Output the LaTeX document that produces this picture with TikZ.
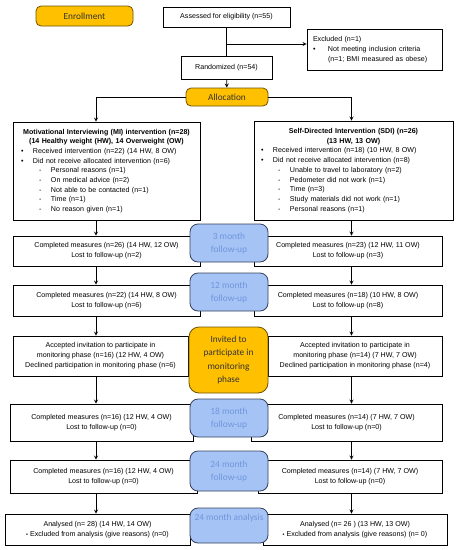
\documentclass[tikz,border=0pt]{standalone}
\usepackage{fontspec}
\setmainfont{Liberation Sans}
\newfontfamily\calib{Carlito}
\definecolor{orfill}{HTML}{FFC000}
\definecolor{ordraw}{HTML}{6E5200}
\definecolor{blfill}{HTML}{A6C3F6}
\definecolor{bldraw}{HTML}{33415C}
\definecolor{bltext}{HTML}{6E96DC}
\tikzset{
  wbox/.style={draw, fill=white, line width=0.8pt, inner sep=0pt, align=center, font=\fontsize{7.1}{10}\selectfont},
  bbox/.style={draw=bldraw, fill=blfill, text=bltext, line width=0.8pt, rounded corners=8pt, inner sep=0pt, align=center, minimum width=78pt, font=\calib\fontsize{9.4}{13}\selectfont},
  obox/.style={draw=ordraw, fill=orfill, text=black!80, line width=0.8pt, rounded corners=5pt, inner sep=0pt, align=center, font=\calib\fontsize{9.3}{13.5}\selectfont},
  arr/.style={->, line width=0.8pt}
}
\newcommand{\bul}[2][8pt]{\hspace*{#1}\makebox[12pt][l]{\textbullet}#2}
\newcommand{\dsh}[2][26pt]{\hspace*{#1}\makebox[12pt][l]{-}#2}
\begin{document}
\begin{tikzpicture}[>=stealth, x=1pt, y=-1pt]
	\useasboundingbox (0,0) rectangle (456,550);
	%Enrollment
	\node[obox, minimum width=97pt, minimum height=20pt] (enroll) at (84.5,16) {Enrollment};
	\node[wbox, minimum width=127pt, minimum height=20pt] (assess) at (226.5,17) {Assessed for eligibility (n=55)};
	\node[wbox, minimum width=135pt, minimum height=41pt, text width=135pt, align=left] (excl) at (374.5,49.5)
		{\hspace*{6pt}Excluded (n=1)\\
		\bul[6pt]{\hspace*{3pt}Not meeting inclusion criteria}\\
		\hspace*{21pt}(n=1; BMI measured as obese)};
	\node[wbox, minimum width=91pt, minimum height=23pt] (rand) at (226.5,67.5) {Randomized (n=54)};
	\coordinate (br) at (227,44);
	\draw[line width=0.8pt] (assess.south) -- (rand.north);
	\draw[arr] (br) -- (br -| excl.west);
	%Allocation
	\node[obox, minimum width=82pt, minimum height=18pt] (alloc) at (227,97) {Allocation};
	\draw[arr] (rand) -- (alloc);
	\coordinate (lx) at (96,0);
	\coordinate (rx) at (351.5,0);
	%Khung MI
	\node[wbox, minimum width=187pt, minimum height=98pt, text width=187pt, align=left,
		font=\fontsize{7.1}{9.7}\selectfont] (mi) at (106.5,171)
		{\makebox[187pt]{\bfseries Motivational Interviewing (MI) intervention (n=28)}\\
		\makebox[187pt]{\bfseries (14 Healthy weight (HW), 14 Overweight (OW)}\\
		\bul{Received intervention (n=22) (14 HW, 8 OW)}\\
		\bul{Did not receive allocated intervention (n=6)}\\
		\dsh{Personal reasons (n=1)}\\
		\dsh{On medical advice (n=2)}\\
		\dsh{Not able to be contacted (n=1)}\\
		\dsh{Time (n=1)}\\
		\dsh{No reason given (n=1)}};
	%Khung SDI
	\node[wbox, minimum width=199pt, minimum height=99pt, text width=199pt, align=left,
		font=\fontsize{7.1}{9.7}\selectfont] (sdi) at (353.5,170.5)
		{\makebox[199pt]{\bfseries Self-Directed Intervention (SDI) (n=26)}\\
		\makebox[199pt]{\bfseries (13 HW, 13 OW)}\\
		\bul[7pt]{Received intervention (n=18) (10 HW, 8 OW)}\\
		\bul[7pt]{Did not receive allocated intervention (n=8)}\\
		\dsh[24pt]{Unable to travel to laboratory (n=2)}\\
		\dsh[24pt]{Pedometer did not work (n=1)}\\
		\dsh[24pt]{Time (n=3)}\\
		\dsh[24pt]{Study materials did not work (n=1)}\\
		\dsh[24pt]{Personal reasons (n=1)}};
	\draw[arr] (alloc.west) -| (lx |- mi.north);
	\draw[arr] (alloc.east) -| (rx |- sdi.north);
	%3 month
	\node[wbox, minimum width=187pt, minimum height=30pt] (c3l) at (106.5,251)
		{Completed measures (n=26) (14 HW, 12 OW)\\Lost to follow-up (n=2)};
	\node[wbox, minimum width=188pt, minimum height=30pt] (c3r) at (348,251)
		{Completed measures (n=23) (12 HW, 11 OW)\\Lost to follow-up (n=3)};
	%12 month
	\node[wbox, minimum width=187pt, minimum height=31pt] (c12l) at (106.5,300.5)
		{Completed measures (n=22) (14 HW, 8 OW)\\Lost to follow-up (n=6)};
	\node[wbox, minimum width=188pt, minimum height=31pt] (c12r) at (348,300.5)
		{Completed measures (n=18) (10 HW, 8 OW)\\Lost to follow-up (n=8)};
	%Monitoring phase
	\node[wbox, minimum width=175pt, minimum height=40pt] (accl) at (100.5,356)
		{Accepted invitation to participate in\\monitoring phase (n=16) (12 HW, 4 OW)\\Declined participation in monitoring phase (n=6)};
	\node[wbox, minimum width=174pt, minimum height=40pt] (accr) at (355,356)
		{Accepted invitation to participate in\\monitoring phase (n=14) (7 HW, 7 OW)\\Declined participation in monitoring phase (n=4)};
	%18 month
	\node[wbox, minimum width=183pt, minimum height=37pt] (c18l) at (101.5,422.5)
		{Completed measures (n=16) (12 HW, 4 OW)\\Lost to follow-up (n=0)};
	\node[wbox, minimum width=191pt, minimum height=37pt] (c18r) at (346.5,422.5)
		{Completed measures (n=14) (7 HW, 7 OW)\\Lost to follow-up (n=0)};
	%24 month
	\node[wbox, minimum width=187pt, minimum height=33pt] (c24l) at (103.5,476.5)
		{Completed measures (n=16) (12 HW, 4 OW)\\Lost to follow-up (n=0)};
	\node[wbox, minimum width=184pt, minimum height=33pt] (c24r) at (350,476.5)
		{Completed measures (n=14) (7 HW, 7 OW)\\Lost to follow-up (n=0)};
	%Analysis
	\node[wbox, minimum width=185pt, minimum height=31pt] (anl) at (97.5,529.5)
		{Analysed (n= 28) (14 HW, 14 OW)\\{\fontsize{5.5}{5}\selectfont\textbullet} Excluded from analysis (give reasons) (n=0)};
	\node[wbox, minimum width=184pt, minimum height=31pt] (anr) at (355,529.5)
		{Analysed (n= 26 ) (13 HW, 13 OW)\\{\fontsize{5.5}{5}\selectfont\textbullet} Excluded from analysis (give reasons) (n= 0)};
	%Mui ten
	\foreach \a/\b in {mi/c3l, c3l/c12l, c12l/accl, accl/c18l, c18l/c24l, c24l/anl}
		\draw[arr] (lx |- \a.south) -- (lx |- \b.north);
	\foreach \a/\b in {sdi/c3r, c3r/c12r, c12r/accr, accr/c18r, c18r/c24r, c24r/anr}
		\draw[arr] (rx |- \a.south) -- (rx |- \b.north);
	%Khung giua
	\node[bbox, minimum height=38pt] (f3) at (229,243) {3 month\\follow-up};
	\node[bbox, minimum height=38pt] (f12) at (229,292) {12 month\\follow-up};
	\node[obox, rounded corners=10pt, minimum width=79pt, minimum height=66pt] (inv) at (228.5,360)
		{Invited to\\participate in\\monitoring\\phase};
	\node[bbox, minimum height=38pt] (f18) at (229,418) {18 month\\follow-up};
	\node[bbox, minimum height=40pt] (f24) at (229,471) {24 month\\follow-up};
	\node[bbox, minimum height=35pt] (an) at (229,525.5) {24 month analysis\\\strut};
\end{tikzpicture}
\end{document}
